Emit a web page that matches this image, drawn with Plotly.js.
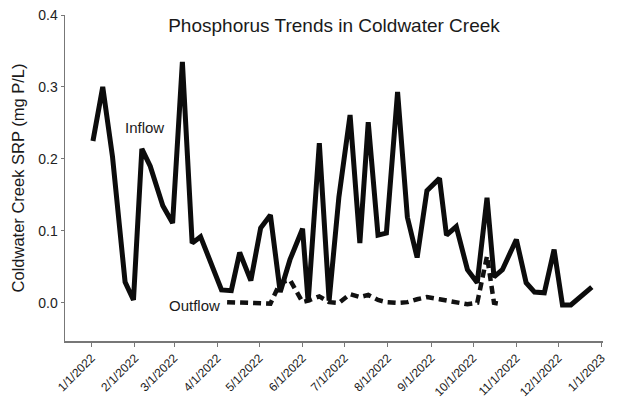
<!DOCTYPE html>
<html>
<head>
<meta charset="utf-8">
<script src="https://cdn.plot.ly/plotly-3.0.1.min.js"></script>
<style>
  html, body { margin: 0; padding: 0; background: #fff; }
  #chart { width: 628px; height: 398px; }
</style>
</head>
<body>
<div id="chart"></div>
<script>
// Soluble reactive phosphorus sampled at the Coldwater Creek inflow and outflow (mg P/L)
const inflowDates = [
  '2022-01-02', '2022-01-09', '2022-01-16', '2022-01-25', '2022-01-31',
  '2022-02-06', '2022-02-12', '2022-02-21', '2022-02-28', '2022-03-07',
  '2022-03-14', '2022-03-20', '2022-04-04', '2022-04-11', '2022-04-17',
  '2022-04-25', '2022-05-02', '2022-05-09', '2022-05-16', '2022-05-23',
  '2022-06-01', '2022-06-05', '2022-06-13', '2022-06-20', '2022-06-27',
  '2022-07-05', '2022-07-12', '2022-07-18', '2022-07-25', '2022-07-31',
  '2022-08-08', '2022-08-15', '2022-08-22', '2022-08-29', '2022-09-07',
  '2022-09-12', '2022-09-19', '2022-09-27', '2022-10-04', '2022-10-11',
  '2022-10-16', '2022-10-22', '2022-11-01', '2022-11-08', '2022-11-14',
  '2022-11-21', '2022-11-28', '2022-12-04', '2022-12-10', '2022-12-25'
];
const inflowSRP = [
  0.225, 0.300, 0.203, 0.029, 0.004,
  0.214, 0.190, 0.135, 0.111, 0.335,
  0.083, 0.092, 0.018, 0.017, 0.070,
  0.031, 0.104, 0.122, 0.015, 0.060,
  0.103, 0.001, 0.222, 0.003, 0.147,
  0.261, 0.083, 0.251, 0.094, 0.097,
  0.293, 0.119, 0.063, 0.156, 0.173,
  0.094, 0.106, 0.046, 0.028, 0.146,
  0.036, 0.046, 0.088, 0.028, 0.015,
  0.014, 0.074, -0.003, -0.003, 0.022
];

const outflowDates = [
  '2022-04-08', '2022-04-17', '2022-04-25', '2022-05-02', '2022-05-09',
  '2022-05-16', '2022-05-23', '2022-06-01', '2022-06-05', '2022-06-13',
  '2022-06-20', '2022-06-27', '2022-07-05', '2022-07-12', '2022-07-18',
  '2022-07-25', '2022-07-31', '2022-08-08', '2022-08-15', '2022-08-22',
  '2022-08-29', '2022-09-07', '2022-09-12', '2022-09-19', '2022-09-27',
  '2022-10-04', '2022-10-11', '2022-10-16', '2022-10-22'
];
const outflowSRP = [
  0.001, 0.000, -0.001, -0.001, -0.001,
  0.028, 0.032, 0.001, 0.003, 0.009,
  0.001, 0.000, 0.012, 0.008, 0.011,
  0.004, 0.001, 0.000, 0.001, 0.005,
  0.008, 0.005, 0.003, 0.000, -0.002,
  0.000, 0.065, 0.000, -0.002
];

// Monthly x-axis ticks
const tickDates = [
  '2022-01-01', '2022-02-01', '2022-03-01', '2022-04-01', '2022-05-01',
  '2022-06-01', '2022-07-01', '2022-08-01', '2022-09-01', '2022-10-01',
  '2022-11-01', '2022-12-01', '2023-01-01'
];
const tickLabels = [
  '1/1/2022', '2/1/2022', '3/1/2022', '4/1/2022', '5/1/2022',
  '6/1/2022', '7/1/2022', '8/1/2022', '9/1/2022', '10/1/2022',
  '11/1/2022', '12/1/2022', '1/1/2023'
];

const FONT = 'Liberation Sans, Arial, Helvetica, sans-serif';

const traces = [
  {
    x: outflowDates, y: outflowSRP, name: 'Outflow',
    type: 'scatter', mode: 'lines',
    line: { color: '#111', width: 4.5, dash: '8px,5px' },
    hoverinfo: 'x+y'
  },
  {
    x: inflowDates, y: inflowSRP, name: 'Inflow',
    type: 'scatter', mode: 'lines',
    line: { color: '#0c0c0c', width: 5 },
    hoverinfo: 'x+y'
  }
];

const layout = {
  width: 628, height: 398,
  margin: { l: 65, r: 25, t: 15, b: 57 },
  paper_bgcolor: '#fff', plot_bgcolor: '#fff',
  showlegend: false,
  font: { family: FONT, color: '#222' },
  title: {
    text: 'Phosphorus Trends in Coldwater Creek',
    font: { family: FONT, size: 19, color: '#1a1a1a' },
    xref: 'paper', x: 0.5, xanchor: 'center',
    yref: 'container', y: 0.937, yanchor: 'middle'
  },
  xaxis: {
    type: 'date',
    range: ['2021-12-13', '2023-01-02'],
    tickmode: 'array', tickvals: tickDates, ticktext: tickLabels,
    tickangle: -45,
    tickfont: { family: FONT, size: 12, color: '#1a1a1a' },
    ticks: 'outside', ticklen: 4, tickcolor: '#777', tickwidth: 1,
    showline: true, linecolor: '#777', linewidth: 1.5,
    showgrid: false, zeroline: false
  },
  yaxis: {
    range: [-0.053, 0.4],
    tickmode: 'array', tickvals: [0, 0.1, 0.2, 0.3, 0.4],
    ticktext: ['0.0', '0.1', '0.2', '0.3', '0.4'],
    tickfont: { family: FONT, size: 14, color: '#222' },
    ticks: 'outside', ticklen: 3, tickcolor: '#777', tickwidth: 1,
    showline: true, linecolor: '#777', linewidth: 1.5,
    showgrid: false, zeroline: false,
    title: {
      text: 'Coldwater Creek SRP (mg P/L)',
      font: { family: FONT, size: 16.5, color: '#1a1a1a' },
      standoff: 9
    }
  },
  annotations: [
    {
      x: '2022-02-08', y: 0.244, xref: 'x', yref: 'y',
      text: 'Inflow', showarrow: false,
      font: { family: FONT, size: 15, color: '#1a1a1a' }
    },
    {
      x: '2022-03-16', y: -0.004, xref: 'x', yref: 'y',
      text: 'Outflow', showarrow: false,
      font: { family: FONT, size: 15, color: '#1a1a1a' }
    }
  ]
};

Plotly.newPlot('chart', traces, layout, { displayModeBar: false, staticPlot: true });
</script>
</body>
</html>
